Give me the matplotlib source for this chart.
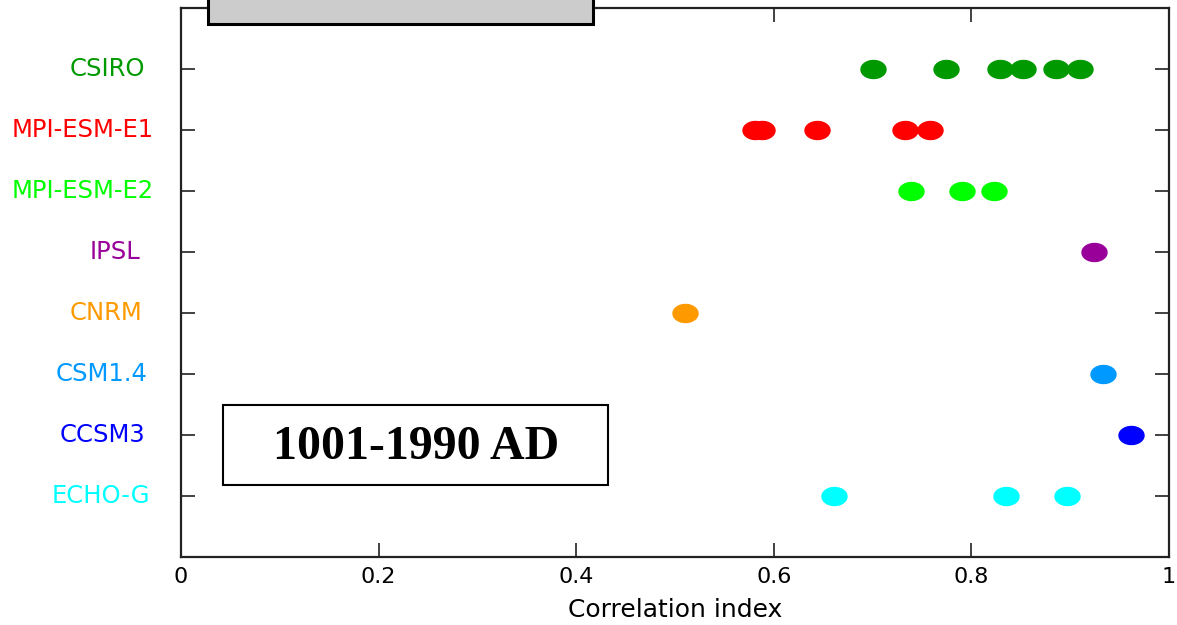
import numpy as np
import matplotlib
matplotlib.use("Agg")
import matplotlib.pyplot as plt
from matplotlib.path import Path
from matplotlib.patches import Rectangle

# ---- data ----
models = ["CSIRO", "MPI-ESM-E1", "MPI-ESM-E2", "IPSL", "CNRM", "CSM1.4", "CCSM3", "ECHO-G"]
colors = ["#009900", "#FF0000", "#00FF00", "#990099", "#FF9900", "#0099FF", "#0000FF", "#00FFFF"]
values = {
    "CSIRO": [0.700, 0.774, 0.829, 0.852, 0.886, 0.910],
    "MPI-ESM-E1": [0.581, 0.588, 0.644, 0.733, 0.758],
    "MPI-ESM-E2": [0.739, 0.790, 0.823],
    "IPSL": [0.924],
    "CNRM": [0.510],
    "CSM1.4": [0.933],
    "CCSM3": [0.962],
    "ECHO-G": [0.661, 0.835, 0.897],
}
xticks = [0, 0.2, 0.4, 0.6, 0.8, 1.0]
xticklabels = ["0", "0.2", "0.4", "0.6", "0.8", "1"]
period_label = "1001-1990 AD"
xlabel = "Correlation index"

# ---- layout ----
W, H = 1177, 625
fig = plt.figure(figsize=(W / 100, H / 100), dpi=100)
ax = fig.add_axes([181 / W, 1 - 557 / H, (1169 - 181) / W, (557 - 8) / H])

# elliptical marker (wider than tall)
t = np.linspace(0, 2 * np.pi, 60)
ell = Path(np.column_stack([np.cos(t), 0.72 * np.sin(t)]), closed=True)

n = len(models)
for i, (m, c) in enumerate(zip(models, colors)):
    y = n - i
    xs = values[m]
    ax.plot(xs, [y] * len(xs), linestyle="none", marker=ell, markersize=18,
            markerfacecolor=c, markeredgecolor=c)

ax.set_xlim(0, 1)
ax.set_ylim(0, n + 1)
ax.set_xticks(xticks)
ax.set_xticklabels(xticklabels, fontsize=16, family="DejaVu Sans")
ax.set_yticks(range(1, n + 1))
ax.set_yticklabels([])
ax.tick_params(axis="both", direction="in", length=10, width=1.3, color="#333333",
               top=True, right=True)
ax.tick_params(axis="x", pad=7)
for s in ax.spines.values():
    s.set_linewidth(1.6)
    s.set_color("#222222")
ax.set_xlabel(xlabel, fontsize=18, family="DejaVu Sans", labelpad=8)

# colored model labels at left
label_left = [70, 12, 12, 90, 70, 56, 60, 52]
for i, (m, c) in enumerate(zip(models, colors)):
    y = n - i
    ypix = ax.transData.transform((0, y))[1]
    fig.text(label_left[i] / W, ypix / H, m, color=c, fontsize=17.5,
             family="DejaVu Sans", ha="left", va="center")

# clipped gray box at the top
fig.patches.append(Rectangle((208 / W, 1 - 24 / H), (593 - 208) / W, 40 / H,
                             transform=fig.transFigure, facecolor="#cccccc",
                             edgecolor="black", linewidth=2.2, zorder=5))

# period box
fig.patches.append(Rectangle((223 / W, 1 - 485 / H), (608 - 223) / W, (485 - 405) / H,
                             transform=fig.transFigure, facecolor="white",
                             edgecolor="black", linewidth=1.5, zorder=5))
fig.text(416 / W, 1 - 447 / H, period_label, fontsize=34.5, fontweight="bold",
         family="Liberation Serif", ha="center", va="center", zorder=6)

fig.savefig("out.png", dpi=100)
